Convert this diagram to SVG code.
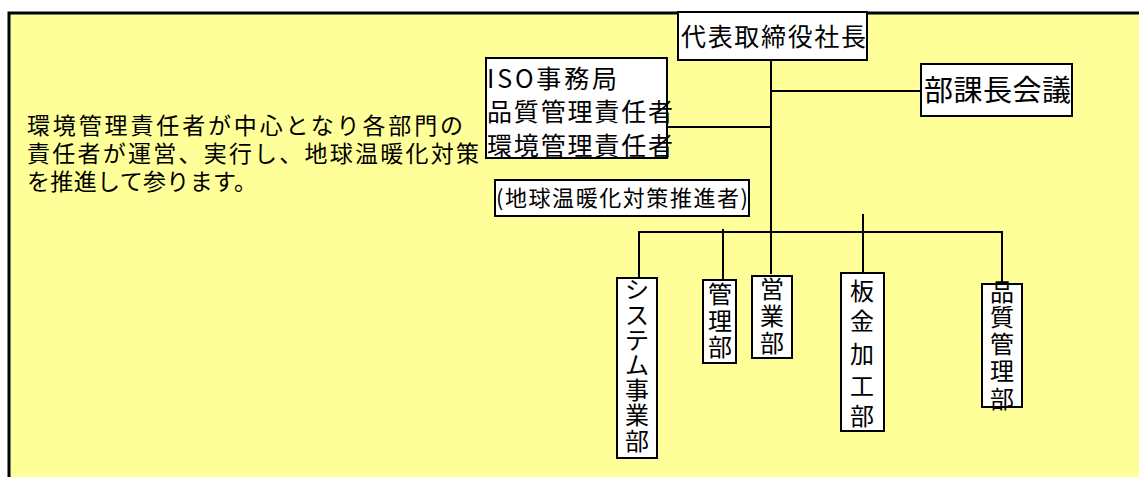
<svg xmlns="http://www.w3.org/2000/svg" width="1139" height="477" viewBox="0 0 1139 477">
<style>
.bg{fill:#FFFF99;stroke:#000;stroke-width:3}
.box{fill:#fff;stroke:#000;stroke-width:2}
.ln{fill:none;stroke:#000;stroke-width:2}
text{font-family:"Noto Sans CJK JP","Noto Sans CJK SC",sans-serif;fill:#000}
.t23{font-size:23px}
.t25{font-size:25px}
.v{font-size:24px;text-anchor:middle}
</style>
<rect class="bg" x="9" y="13" width="1200" height="600"/>
<g id="connectors">
<path class="ln" d="M771 60V274"/>
<path class="ln" d="M771 91H921"/>
<path class="ln" d="M667 127H771"/>
<path class="ln" d="M639 278V232H1002V284"/>
<path class="ln" d="M723 229V280"/>
<path class="ln" d="M863 214V273"/>
</g>
<g id="description">
<text class="t23" x="27" y="134" textLength="436" lengthAdjust="spacing">環境管理責任者が中心となり各部門の</text>
<text class="t23" x="27" y="162" textLength="452" lengthAdjust="spacing">責任者が運営、実行し、地球温暖化対策</text>
<text class="t23" x="27" y="190" textLength="230" lengthAdjust="spacing">を推進して参ります。</text>
</g>
<g id="president">
<rect class="box" x="678" y="12" width="189" height="48"/>
<text class="t25" x="681" y="46" textLength="185" lengthAdjust="spacing">代表取締役社長</text>
</g>
<g id="iso">
<rect class="box" x="486" y="58" width="181" height="100"/>
<text class="t25" x="487" y="88" textLength="130" lengthAdjust="spacing">ISO事務局</text>
<text class="t25" x="487" y="121" textLength="186" lengthAdjust="spacing">品質管理責任者</text>
<text class="t25" x="487" y="155" textLength="186" lengthAdjust="spacing">環境管理責任者</text>
</g>
<g id="meeting">
<rect class="box" x="921" y="64" width="151" height="52"/>
<text x="924" y="101" font-size="29" textLength="147" lengthAdjust="spacing">部課長会議</text>
</g>
<g id="promoter">
<rect class="box" x="495" y="180" width="254" height="36"/>
<text x="496" y="206" font-size="22" textLength="252" lengthAdjust="spacing">(地球温暖化対策推進者)</text>
</g>
<g id="system">
<rect class="box" x="617" y="278" width="40" height="180"/>
<text class="v"><tspan x="637" y="298">シ</tspan><tspan x="637" y="324">ス</tspan><tspan x="637" y="349">テ</tspan><tspan x="637" y="374">ム</tspan><tspan x="637" y="399">事</tspan><tspan x="637" y="424">業</tspan><tspan x="637" y="450">部</tspan></text>
</g>
<g id="kanri">
<rect class="box" x="703" y="280" width="33" height="83"/>
<text class="v"><tspan x="720" y="303">管</tspan><tspan x="720" y="330">理</tspan><tspan x="720" y="356">部</tspan></text>
</g>
<g id="eigyo">
<rect class="box" x="752" y="276" width="40" height="82"/>
<text class="v"><tspan x="772" y="298">営</tspan><tspan x="772" y="325">業</tspan><tspan x="772" y="352">部</tspan></text>
</g>
<g id="bankin">
<rect class="box" x="841" y="273" width="43" height="158"/>
<text class="v"><tspan x="862" y="300">板</tspan><tspan x="862" y="330">金</tspan><tspan x="862" y="363">加</tspan><tspan x="862" y="395">工</tspan><tspan x="862" y="425">部</tspan></text>
</g>
<g id="hinshitsu">
<rect class="box" x="982" y="284" width="40" height="123"/>
<text class="v"><tspan x="1002" y="301">品</tspan><tspan x="1002" y="326">質</tspan><tspan x="1002" y="353">管</tspan><tspan x="1002" y="380">理</tspan><tspan x="1002" y="408">部</tspan></text>
</g>
</svg>
